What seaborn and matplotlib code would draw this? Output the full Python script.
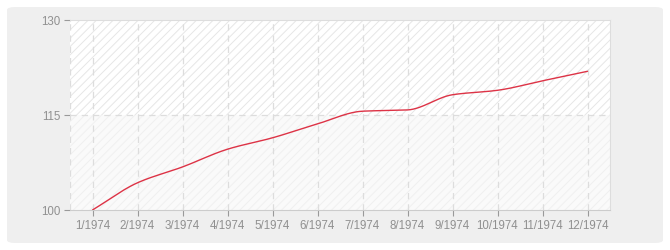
import numpy as np
import pandas as pd
import matplotlib
matplotlib.use("Agg")
import matplotlib.pyplot as plt
from matplotlib.patches import FancyBboxPatch
import seaborn as sns

# ---- data ----
months = ["1/1974", "2/1974", "3/1974", "4/1974", "5/1974", "6/1974",
          "7/1974", "8/1974", "9/1974", "10/1974", "11/1974", "12/1974"]
values = [100.0, 104.3, 106.8, 109.6, 111.4, 113.6, 115.6, 115.8, 118.2, 118.9, 120.4, 121.9]
y_ticks = [100, 115, 130]

sns.set_theme(style="white")
plt.rcParams['font.family'] = ['Liberation Sans', 'DejaVu Sans']
plt.rcParams['hatch.linewidth'] = 0.7

fig = plt.figure(figsize=(6.7, 2.5), dpi=100)
fig.patch.set_facecolor("white")
W, H = 670, 250
bg = FancyBboxPatch((7 / W, 7 / H), 656 / W, 236 / H,
                    boxstyle="round,pad=0,rounding_size=0.012",
                    transform=fig.transFigure, facecolor="#efefef",
                    edgecolor="none", zorder=-10)
fig.patches.append(bg)

ax = fig.add_axes([70 / W, 40 / H, 540 / W, 190 / H])
ax.set_zorder(1)
ax.set_facecolor("white")

# smooth rendering of the line (monotone cubic through data points)
x = np.arange(1, len(values) + 1, dtype=float)
y = np.array(values)
h = np.diff(x)
d = np.diff(y) / h
m = np.zeros_like(y)
m[0], m[-1] = d[0], d[-1]
for i in range(1, len(y) - 1):
    if d[i - 1] * d[i] <= 0:
        m[i] = 0
    else:
        m[i] = 2 / (1 / d[i - 1] + 1 / d[i])
xs, ys = [], []
for i in range(len(y) - 1):
    t = np.linspace(0, 1, 30, endpoint=(i == len(y) - 2))
    h00 = 2 * t**3 - 3 * t**2 + 1
    h10 = t**3 - 2 * t**2 + t
    h01 = -2 * t**3 + 3 * t**2
    h11 = t**3 - t**2
    xs.append(x[i] + t * h[i])
    ys.append(h00 * y[i] + h10 * h[i] * m[i] + h01 * y[i + 1] + h11 * h[i] * m[i + 1])
df = pd.DataFrame({"x": np.concatenate(xs), "y": np.concatenate(ys)})

# background bands with hatch
ax.axhspan(115, 130, facecolor="white", edgecolor="#e6e6e6", hatch="////", lw=0, zorder=0)
ax.axhspan(100, 115, facecolor="#fafafa", edgecolor="#f0f0f0", hatch="////", lw=0, zorder=0)

# grid
dash = (0, (5, 4))
for xi in x:
    ax.axvline(xi, color="#dddddd", lw=0.9, ls=dash, zorder=1)
ax.axvline(0.5, color="#dddddd", lw=0.9, ls=dash, zorder=1)
ax.axhline(115, color="#dddddd", lw=0.9, ls=dash, zorder=1)

sns.lineplot(data=df, x="x", y="y", ax=ax, color="#dd3346", lw=1.0, zorder=3)

ax.set_xlim(0.5, 12.5)
ax.set_ylim(100, 130)
ax.set_xticks(x)
ax.set_xticklabels(months)
ax.set_yticks(y_ticks)
ax.set_xlabel("")
ax.set_ylabel("")
ax.tick_params(axis="both", colors="#999999", labelsize=8.3, length=4, width=0.8, pad=3,
               labelcolor="#909090")
ax.tick_params(axis="x", direction="out", bottom=True)
ax.tick_params(axis="y", direction="out", left=True)
for s in ["top", "right"]:
    ax.spines[s].set_color("#dddddd")
    ax.spines[s].set_linewidth(0.8)
ax.spines["left"].set_visible(False)
ax.spines["bottom"].set_color("#cccccc")
ax.spines["bottom"].set_linewidth(0.8)

fig.savefig("out.png", dpi=100)
